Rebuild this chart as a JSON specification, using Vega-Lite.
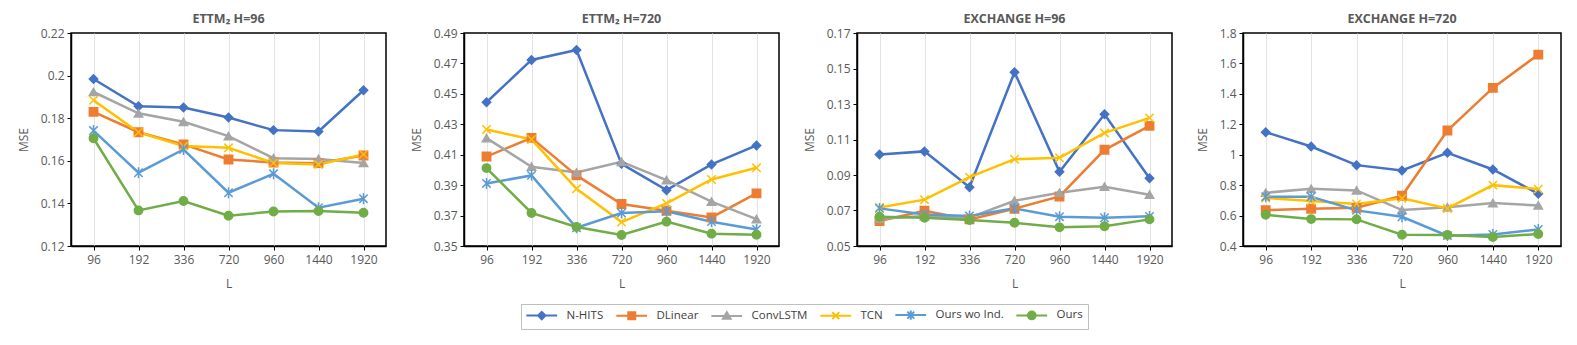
{
  "$schema": "https://vega.github.io/schema/vega-lite/v6.json",
  "padding": {"left": 16, "top": 11, "right": 5, "bottom": 5},
  "background": "white",
  "datasets": {
    "mse": [
      {"p": "A", "L": "96", "m": "N-HITS", "v": 0.1984}, {"p": "A", "L": "192", "m": "N-HITS", "v": 0.1856}, {"p": "A", "L": "336", "m": "N-HITS", "v": 0.185}, {"p": "A", "L": "720", "m": "N-HITS", "v": 0.1803}, {"p": "A", "L": "960", "m": "N-HITS", "v": 0.1744}, {"p": "A", "L": "1440", "m": "N-HITS", "v": 0.1738}, {"p": "A", "L": "1920", "m": "N-HITS", "v": 0.1931},
      {"p": "A", "L": "96", "m": "DLinear", "v": 0.183}, {"p": "A", "L": "192", "m": "DLinear", "v": 0.1734}, {"p": "A", "L": "336", "m": "DLinear", "v": 0.1677}, {"p": "A", "L": "720", "m": "DLinear", "v": 0.1606}, {"p": "A", "L": "960", "m": "DLinear", "v": 0.1592}, {"p": "A", "L": "1440", "m": "DLinear", "v": 0.1589}, {"p": "A", "L": "1920", "m": "DLinear", "v": 0.1625},
      {"p": "A", "L": "96", "m": "ConvLSTM", "v": 0.1923}, {"p": "A", "L": "192", "m": "ConvLSTM", "v": 0.1823}, {"p": "A", "L": "336", "m": "ConvLSTM", "v": 0.1783}, {"p": "A", "L": "720", "m": "ConvLSTM", "v": 0.1716}, {"p": "A", "L": "960", "m": "ConvLSTM", "v": 0.1612}, {"p": "A", "L": "1440", "m": "ConvLSTM", "v": 0.1609}, {"p": "A", "L": "1920", "m": "ConvLSTM", "v": 0.159},
      {"p": "A", "L": "96", "m": "TCN", "v": 0.1884}, {"p": "A", "L": "192", "m": "TCN", "v": 0.1734}, {"p": "A", "L": "336", "m": "TCN", "v": 0.1669}, {"p": "A", "L": "720", "m": "TCN", "v": 0.1661}, {"p": "A", "L": "960", "m": "TCN", "v": 0.159}, {"p": "A", "L": "1440", "m": "TCN", "v": 0.1583}, {"p": "A", "L": "1920", "m": "TCN", "v": 0.163},
      {"p": "A", "L": "96", "m": "Ours wo Ind.", "v": 0.1742}, {"p": "A", "L": "192", "m": "Ours wo Ind.", "v": 0.1544}, {"p": "A", "L": "336", "m": "Ours wo Ind.", "v": 0.1653}, {"p": "A", "L": "720", "m": "Ours wo Ind.", "v": 0.145}, {"p": "A", "L": "960", "m": "Ours wo Ind.", "v": 0.1539}, {"p": "A", "L": "1440", "m": "Ours wo Ind.", "v": 0.138}, {"p": "A", "L": "1920", "m": "Ours wo Ind.", "v": 0.1422},
      {"p": "A", "L": "96", "m": "Ours", "v": 0.1706}, {"p": "A", "L": "192", "m": "Ours", "v": 0.1367}, {"p": "A", "L": "336", "m": "Ours", "v": 0.1411}, {"p": "A", "L": "720", "m": "Ours", "v": 0.1342}, {"p": "A", "L": "960", "m": "Ours", "v": 0.1362}, {"p": "A", "L": "1440", "m": "Ours", "v": 0.1364}, {"p": "A", "L": "1920", "m": "Ours", "v": 0.1356},

      {"p": "B", "L": "96", "m": "N-HITS", "v": 0.4445}, {"p": "B", "L": "192", "m": "N-HITS", "v": 0.4723}, {"p": "B", "L": "336", "m": "N-HITS", "v": 0.4788}, {"p": "B", "L": "720", "m": "N-HITS", "v": 0.404}, {"p": "B", "L": "960", "m": "N-HITS", "v": 0.3867}, {"p": "B", "L": "1440", "m": "N-HITS", "v": 0.4036}, {"p": "B", "L": "1920", "m": "N-HITS", "v": 0.4161},
      {"p": "B", "L": "96", "m": "DLinear", "v": 0.4088}, {"p": "B", "L": "192", "m": "DLinear", "v": 0.4211}, {"p": "B", "L": "336", "m": "DLinear", "v": 0.3964}, {"p": "B", "L": "720", "m": "DLinear", "v": 0.3776}, {"p": "B", "L": "960", "m": "DLinear", "v": 0.3732}, {"p": "B", "L": "1440", "m": "DLinear", "v": 0.3688}, {"p": "B", "L": "1920", "m": "DLinear", "v": 0.3846},
      {"p": "B", "L": "96", "m": "ConvLSTM", "v": 0.4209}, {"p": "B", "L": "192", "m": "ConvLSTM", "v": 0.4021}, {"p": "B", "L": "336", "m": "ConvLSTM", "v": 0.3983}, {"p": "B", "L": "720", "m": "ConvLSTM", "v": 0.4053}, {"p": "B", "L": "960", "m": "ConvLSTM", "v": 0.3933}, {"p": "B", "L": "1440", "m": "ConvLSTM", "v": 0.3791}, {"p": "B", "L": "1920", "m": "ConvLSTM", "v": 0.3677},
      {"p": "B", "L": "96", "m": "TCN", "v": 0.4266}, {"p": "B", "L": "192", "m": "TCN", "v": 0.42}, {"p": "B", "L": "336", "m": "TCN", "v": 0.3876}, {"p": "B", "L": "720", "m": "TCN", "v": 0.3657}, {"p": "B", "L": "960", "m": "TCN", "v": 0.378}, {"p": "B", "L": "1440", "m": "TCN", "v": 0.3937}, {"p": "B", "L": "1920", "m": "TCN", "v": 0.4014},
      {"p": "B", "L": "96", "m": "Ours wo Ind.", "v": 0.3911}, {"p": "B", "L": "192", "m": "Ours wo Ind.", "v": 0.3964}, {"p": "B", "L": "336", "m": "Ours wo Ind.", "v": 0.362}, {"p": "B", "L": "720", "m": "Ours wo Ind.", "v": 0.3717}, {"p": "B", "L": "960", "m": "Ours wo Ind.", "v": 0.3728}, {"p": "B", "L": "1440", "m": "Ours wo Ind.", "v": 0.366}, {"p": "B", "L": "1920", "m": "Ours wo Ind.", "v": 0.3609},
      {"p": "B", "L": "96", "m": "Ours", "v": 0.4012}, {"p": "B", "L": "192", "m": "Ours", "v": 0.3717}, {"p": "B", "L": "336", "m": "Ours", "v": 0.3625}, {"p": "B", "L": "720", "m": "Ours", "v": 0.3572}, {"p": "B", "L": "960", "m": "Ours", "v": 0.366}, {"p": "B", "L": "1440", "m": "Ours", "v": 0.3581}, {"p": "B", "L": "1920", "m": "Ours", "v": 0.3574},

      {"p": "C", "L": "96", "m": "N-HITS", "v": 0.1016}, {"p": "C", "L": "192", "m": "N-HITS", "v": 0.1033}, {"p": "C", "L": "336", "m": "N-HITS", "v": 0.0831}, {"p": "C", "L": "720", "m": "N-HITS", "v": 0.1479}, {"p": "C", "L": "960", "m": "N-HITS", "v": 0.0918}, {"p": "C", "L": "1440", "m": "N-HITS", "v": 0.1242}, {"p": "C", "L": "1920", "m": "N-HITS", "v": 0.0882},
      {"p": "C", "L": "96", "m": "DLinear", "v": 0.0641}, {"p": "C", "L": "192", "m": "DLinear", "v": 0.0699}, {"p": "C", "L": "336", "m": "DLinear", "v": 0.065}, {"p": "C", "L": "720", "m": "DLinear", "v": 0.071}, {"p": "C", "L": "960", "m": "DLinear", "v": 0.0779}, {"p": "C", "L": "1440", "m": "DLinear", "v": 0.1042}, {"p": "C", "L": "1920", "m": "DLinear", "v": 0.1177},
      {"p": "C", "L": "96", "m": "ConvLSTM", "v": 0.0654}, {"p": "C", "L": "192", "m": "ConvLSTM", "v": 0.0669}, {"p": "C", "L": "336", "m": "ConvLSTM", "v": 0.066}, {"p": "C", "L": "720", "m": "ConvLSTM", "v": 0.0755}, {"p": "C", "L": "960", "m": "ConvLSTM", "v": 0.08}, {"p": "C", "L": "1440", "m": "ConvLSTM", "v": 0.0834}, {"p": "C", "L": "1920", "m": "ConvLSTM", "v": 0.0789},
      {"p": "C", "L": "96", "m": "TCN", "v": 0.0717}, {"p": "C", "L": "192", "m": "TCN", "v": 0.0761}, {"p": "C", "L": "336", "m": "TCN", "v": 0.0888}, {"p": "C", "L": "720", "m": "TCN", "v": 0.0989}, {"p": "C", "L": "960", "m": "TCN", "v": 0.0997}, {"p": "C", "L": "1440", "m": "TCN", "v": 0.1137}, {"p": "C", "L": "1920", "m": "TCN", "v": 0.1222},
      {"p": "C", "L": "96", "m": "Ours wo Ind.", "v": 0.0712}, {"p": "C", "L": "192", "m": "Ours wo Ind.", "v": 0.0678}, {"p": "C", "L": "336", "m": "Ours wo Ind.", "v": 0.0669}, {"p": "C", "L": "720", "m": "Ours wo Ind.", "v": 0.0712}, {"p": "C", "L": "960", "m": "Ours wo Ind.", "v": 0.0665}, {"p": "C", "L": "1440", "m": "Ours wo Ind.", "v": 0.0659}, {"p": "C", "L": "1920", "m": "Ours wo Ind.", "v": 0.0667},
      {"p": "C", "L": "96", "m": "Ours", "v": 0.0665}, {"p": "C", "L": "192", "m": "Ours", "v": 0.0659}, {"p": "C", "L": "336", "m": "Ours", "v": 0.0646}, {"p": "C", "L": "720", "m": "Ours", "v": 0.0631}, {"p": "C", "L": "960", "m": "Ours", "v": 0.0605}, {"p": "C", "L": "1440", "m": "Ours", "v": 0.0611}, {"p": "C", "L": "1920", "m": "Ours", "v": 0.065},

      {"p": "D", "L": "96", "m": "N-HITS", "v": 1.148}, {"p": "D", "L": "192", "m": "N-HITS", "v": 1.054}, {"p": "D", "L": "336", "m": "N-HITS", "v": 0.9315}, {"p": "D", "L": "720", "m": "N-HITS", "v": 0.8965}, {"p": "D", "L": "960", "m": "N-HITS", "v": 1.0125}, {"p": "D", "L": "1440", "m": "N-HITS", "v": 0.903}, {"p": "D", "L": "1920", "m": "N-HITS", "v": 0.743},
      {"p": "D", "L": "96", "m": "DLinear", "v": 0.636}, {"p": "D", "L": "192", "m": "DLinear", "v": 0.645}, {"p": "D", "L": "336", "m": "DLinear", "v": 0.651}, {"p": "D", "L": "720", "m": "DLinear", "v": 0.73}, {"p": "D", "L": "960", "m": "DLinear", "v": 1.159}, {"p": "D", "L": "1440", "m": "DLinear", "v": 1.439}, {"p": "D", "L": "1920", "m": "DLinear", "v": 1.658},
      {"p": "D", "L": "96", "m": "ConvLSTM", "v": 0.75}, {"p": "D", "L": "192", "m": "ConvLSTM", "v": 0.776}, {"p": "D", "L": "336", "m": "ConvLSTM", "v": 0.765}, {"p": "D", "L": "720", "m": "ConvLSTM", "v": 0.636}, {"p": "D", "L": "960", "m": "ConvLSTM", "v": 0.654}, {"p": "D", "L": "1440", "m": "ConvLSTM", "v": 0.682}, {"p": "D", "L": "1920", "m": "ConvLSTM", "v": 0.667},
      {"p": "D", "L": "96", "m": "TCN", "v": 0.715}, {"p": "D", "L": "192", "m": "TCN", "v": 0.695}, {"p": "D", "L": "336", "m": "TCN", "v": 0.676}, {"p": "D", "L": "720", "m": "TCN", "v": 0.713}, {"p": "D", "L": "960", "m": "TCN", "v": 0.647}, {"p": "D", "L": "1440", "m": "TCN", "v": 0.8}, {"p": "D", "L": "1920", "m": "TCN", "v": 0.774},
      {"p": "D", "L": "96", "m": "Ours wo Ind.", "v": 0.724}, {"p": "D", "L": "192", "m": "Ours wo Ind.", "v": 0.724}, {"p": "D", "L": "336", "m": "Ours wo Ind.", "v": 0.634}, {"p": "D", "L": "720", "m": "Ours wo Ind.", "v": 0.592}, {"p": "D", "L": "960", "m": "Ours wo Ind.", "v": 0.468}, {"p": "D", "L": "1440", "m": "Ours wo Ind.", "v": 0.476}, {"p": "D", "L": "1920", "m": "Ours wo Ind.", "v": 0.509},
      {"p": "D", "L": "96", "m": "Ours", "v": 0.6055}, {"p": "D", "L": "192", "m": "Ours", "v": 0.577}, {"p": "D", "L": "336", "m": "Ours", "v": 0.575}, {"p": "D", "L": "720", "m": "Ours", "v": 0.474}, {"p": "D", "L": "960", "m": "Ours", "v": 0.472}, {"p": "D", "L": "1440", "m": "Ours", "v": 0.459}, {"p": "D", "L": "1920", "m": "Ours", "v": 0.479}
    ]
  },
  "spacing": 22,
  "hconcat": [
    {
      "title": "ETTM₂ H=96",
      "width": 315, "height": 213,
      "data": {"name": "mse"},
      "transform": [{"filter": "datum.p === 'A'"}],
      "encoding": {
        "x": {"field": "L", "type": "ordinal", "sort": ["96","192","336","720","960","1440","1920"], "scale": {"type": "point", "padding": 0.5}, "title": "L"},
        "y": {"field": "v", "type": "quantitative", "scale": {"domain": [0.12, 0.22], "nice": false, "zero": false}, "axis": {"values": [0.12,0.14,0.16,0.18,0.2,0.22], "format": ".2~f"}, "title": "MSE"},
        "color": {"field": "m", "type": "nominal", "sort": ["N-HITS","DLinear","ConvLSTM","TCN","Ours wo Ind.","Ours"], "scale": {"domain": ["N-HITS","DLinear","ConvLSTM","TCN","Ours wo Ind.","Ours"], "range": ["#4472C4","#ED7D31","#A5A5A5","#FFC000","#5B9BD5","#70AD47"]}, "title": null,
          "legend": {"encode": {"symbols": {"update": {"shape": {"signal": "datum.value === 'N-HITS' ? 'M-4.4,0L4.4,0M0,-1.05L1.05,0L0,1.05L-1.05,0Z' : datum.value === 'DLinear' ? 'M-4.4,0L4.4,0M-1,-1L1,-1L1,1L-1,1Z' : datum.value === 'ConvLSTM' ? 'M-4.4,0L4.4,0M0,-1.1L1.1,0.8L-1.1,0.8Z' : datum.value === 'TCN' ? 'M-4.4,0L4.4,0M-1,-1L1,1M-1,1L1,-1' : datum.value === 'Ours wo Ind.' ? 'M-4.4,0L4.4,0M-1,-1L1,1M-1,1L1,-1M0,-1.3L0,1.3' : 'M-4.4,0L4.4,0M-1.1,0A1.1,1.1,0,1,0,1.1,0A1.1,1.1,0,1,0,-1.1,0Z'"}}}}}
        }
      },
      "layer": [
        {"mark": {"type": "line", "strokeWidth": 2.5}},
        {"mark": {"type": "point", "filled": true, "size": 70, "strokeWidth": 1.5, "opacity": 1},
         "encoding": {
           "stroke": {"field": "m", "type": "nominal", "scale": {"domain": ["N-HITS","DLinear","ConvLSTM","TCN","Ours wo Ind.","Ours"], "range": ["#4472C4","#ED7D31","#A5A5A5","#FFC000","#5B9BD5","#70AD47"]}, "title": null},
           "shape": {"condition": [{"test": "datum.m === 'N-HITS'", "value": "diamond"}, {"test": "datum.m === 'DLinear'", "value": "square"}, {"test": "datum.m === 'ConvLSTM'", "value": "triangle-up"}, {"test": "datum.m === 'TCN'", "value": "M-1,-1L1,1M-1,1L1,-1"}, {"test": "datum.m === 'Ours wo Ind.'", "value": "M-1,-1L1,1M-1,1L1,-1M0,-1.3L0,1.3"}], "value": "circle"}
         }}
      ]
    },
    {
      "title": "ETTM₂ H=720",
      "width": 315, "height": 213,
      "data": {"name": "mse"},
      "transform": [{"filter": "datum.p === 'B'"}],
      "encoding": {
        "x": {"field": "L", "type": "ordinal", "sort": ["96","192","336","720","960","1440","1920"], "scale": {"type": "point", "padding": 0.5}, "title": "L"},
        "y": {"field": "v", "type": "quantitative", "scale": {"domain": [0.35, 0.49], "nice": false, "zero": false}, "axis": {"values": [0.35,0.37,0.39,0.41,0.43,0.45,0.47,0.49], "format": ".2~f"}, "title": "MSE"},
        "color": {"field": "m", "type": "nominal", "sort": ["N-HITS","DLinear","ConvLSTM","TCN","Ours wo Ind.","Ours"], "title": null}
      },
      "layer": [
        {"mark": {"type": "line", "strokeWidth": 2.5}},
        {"mark": {"type": "point", "filled": true, "size": 70, "strokeWidth": 1.5, "opacity": 1},
         "encoding": {
           "stroke": {"field": "m", "type": "nominal", "title": null},
           "shape": {"condition": [{"test": "datum.m === 'N-HITS'", "value": "diamond"}, {"test": "datum.m === 'DLinear'", "value": "square"}, {"test": "datum.m === 'ConvLSTM'", "value": "triangle-up"}, {"test": "datum.m === 'TCN'", "value": "M-1,-1L1,1M-1,1L1,-1"}, {"test": "datum.m === 'Ours wo Ind.'", "value": "M-1,-1L1,1M-1,1L1,-1M0,-1.3L0,1.3"}], "value": "circle"}
         }}
      ]
    },
    {
      "title": "EXCHANGE H=96",
      "width": 315, "height": 213,
      "data": {"name": "mse"},
      "transform": [{"filter": "datum.p === 'C'"}],
      "encoding": {
        "x": {"field": "L", "type": "ordinal", "sort": ["96","192","336","720","960","1440","1920"], "scale": {"type": "point", "padding": 0.5}, "title": "L"},
        "y": {"field": "v", "type": "quantitative", "scale": {"domain": [0.05, 0.17], "nice": false, "zero": false}, "axis": {"values": [0.05,0.07,0.09,0.11,0.13,0.15,0.17], "format": ".2~f"}, "title": "MSE"},
        "color": {"field": "m", "type": "nominal", "sort": ["N-HITS","DLinear","ConvLSTM","TCN","Ours wo Ind.","Ours"], "title": null}
      },
      "layer": [
        {"mark": {"type": "line", "strokeWidth": 2.5}},
        {"mark": {"type": "point", "filled": true, "size": 70, "strokeWidth": 1.5, "opacity": 1},
         "encoding": {
           "stroke": {"field": "m", "type": "nominal", "title": null},
           "shape": {"condition": [{"test": "datum.m === 'N-HITS'", "value": "diamond"}, {"test": "datum.m === 'DLinear'", "value": "square"}, {"test": "datum.m === 'ConvLSTM'", "value": "triangle-up"}, {"test": "datum.m === 'TCN'", "value": "M-1,-1L1,1M-1,1L1,-1"}, {"test": "datum.m === 'Ours wo Ind.'", "value": "M-1,-1L1,1M-1,1L1,-1M0,-1.3L0,1.3"}], "value": "circle"}
         }}
      ]
    },
    {
      "title": "EXCHANGE H=720",
      "width": 318, "height": 213,
      "data": {"name": "mse"},
      "transform": [{"filter": "datum.p === 'D'"}],
      "encoding": {
        "x": {"field": "L", "type": "ordinal", "sort": ["96","192","336","720","960","1440","1920"], "scale": {"type": "point", "padding": 0.5}, "title": "L"},
        "y": {"field": "v", "type": "quantitative", "scale": {"domain": [0.4, 1.8], "nice": false, "zero": false}, "axis": {"values": [0.4,0.6,0.8,1,1.2,1.4,1.6,1.8], "format": ".2~f"}, "title": "MSE"},
        "color": {"field": "m", "type": "nominal", "sort": ["N-HITS","DLinear","ConvLSTM","TCN","Ours wo Ind.","Ours"], "title": null}
      },
      "layer": [
        {"mark": {"type": "line", "strokeWidth": 2.5}},
        {"mark": {"type": "point", "filled": true, "size": 70, "strokeWidth": 1.5, "opacity": 1},
         "encoding": {
           "stroke": {"field": "m", "type": "nominal", "title": null},
           "shape": {"condition": [{"test": "datum.m === 'N-HITS'", "value": "diamond"}, {"test": "datum.m === 'DLinear'", "value": "square"}, {"test": "datum.m === 'ConvLSTM'", "value": "triangle-up"}, {"test": "datum.m === 'TCN'", "value": "M-1,-1L1,1M-1,1L1,-1"}, {"test": "datum.m === 'Ours wo Ind.'", "value": "M-1,-1L1,1M-1,1L1,-1M0,-1.3L0,1.3"}], "value": "circle"}
         }}
      ]
    }
  ],
  "config": {
    "font": "Open Sans",
    "view": {"stroke": "#000", "strokeWidth": 1.5},
    "title": {"font": "Open Sans", "fontSize": 12.5, "fontWeight": "bold", "color": "#595959", "offset": 2},
    "axis": {"labelFont": "Open Sans", "labelFontSize": 12, "labelColor": "#595959", "titleFont": "Open Sans", "titleFontSize": 12, "titleFontWeight": "normal", "titleColor": "#595959", "domainColor": "#000", "domainWidth": 1.5, "tickColor": "#000", "tickSize": 4},
    "axisX": {"grid": true, "gridColor": "#e3e3e3", "gridWidth": 1, "ticks": true, "labelAngle": 0, "labelPadding": 4, "titlePadding": 13},
    "axisY": {"grid": false, "titlePadding": 10, "labelPadding": 3},
    "legend": {
      "orient": "none", "legendX": 450, "legendY": 271, "direction": "horizontal", "title": null,
      "labelFont": "Open Sans", "labelFontSize": 11.5, "labelColor": "#404040",
      "symbolSize": 49, "symbolStrokeWidth": 2, "symbolOffset": 10, "labelOffset": 19, "columnPadding": 8,
      "strokeColor": "#bfbfbf", "padding": 5
    }
  }
}
